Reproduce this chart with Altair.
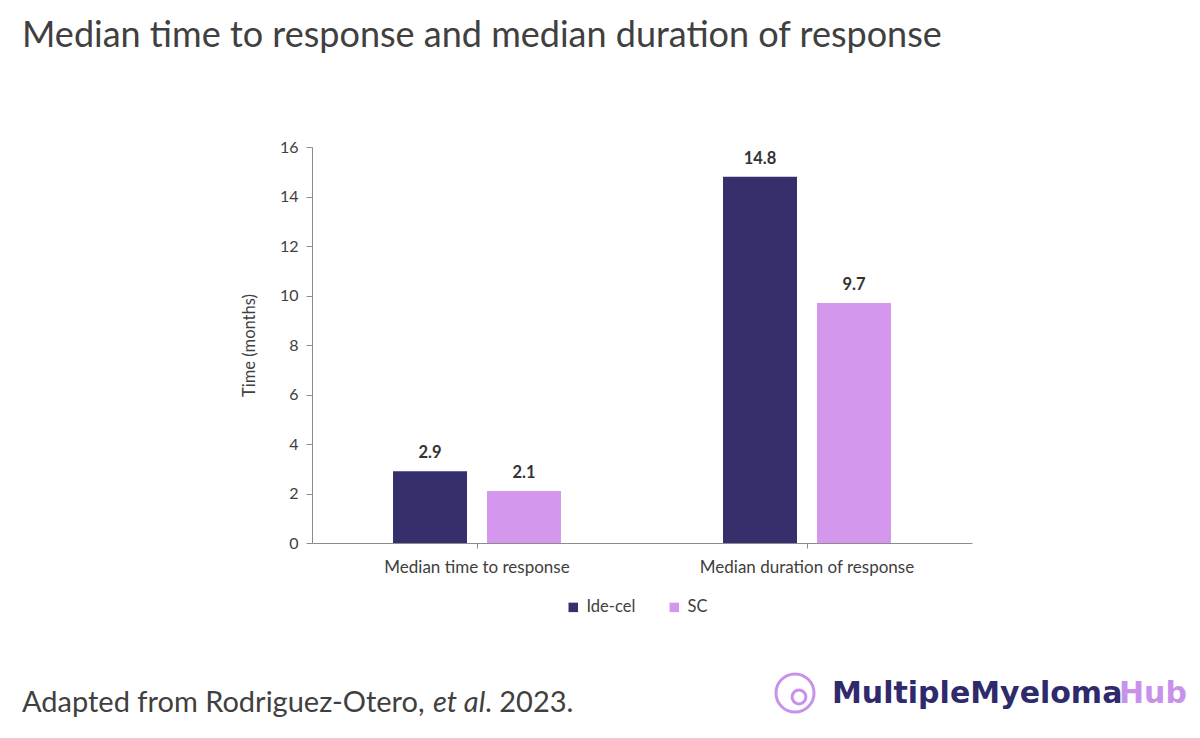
import altair as alt
import pandas as pd

# ---- data ----
categories = ["Median time to response", "Median duration of response"]
series = ["Ide-cel", "SC"]
ide_cel = [2.9, 14.8]
sc = [2.1, 9.7]
colors = ["#35306c", "#d597ee"]
y_ticks = [0, 2, 4, 6, 8, 10, 12, 14, 16]

rows = []
for i, c in enumerate(categories):
    rows.append({"category": c, "group": series[0], "value": ide_cel[i]})
    rows.append({"category": c, "group": series[1], "value": sc[i]})
df = pd.DataFrame(rows)
df["label"] = df["value"].map(lambda v: f"{v:.1f}")

FONT = "Lato"
TXT = "#404040"

# plot origin on page: (312,147); plot size 660 x 396
OX, OY = 312, 147

x = alt.X(
    "category:N",
    sort=categories,
    scale=alt.Scale(paddingInner=0.491, paddingOuter=0.2455),
    axis=alt.Axis(
        title=None, labelAngle=0, labelFontSize=17, labelColor=TXT,
        labelPadding=11, tickSize=5, domainColor="#8c8c8c", tickColor="#8c8c8c",
        labelFont=FONT, labelLimit=0,
    ),
)
xo = alt.XOffset(
    "group:N", sort=series,
    scale=alt.Scale(paddingInner=0.2128, paddingOuter=0),
)
y = alt.Y(
    "value:Q",
    scale=alt.Scale(domain=[0, 16], nice=False),
    axis=alt.Axis(
        values=y_ticks, title="Time (months)", grid=False,
        labelFontSize=16, labelColor=TXT, labelPadding=8, tickSize=6,
        domainColor="#8c8c8c", tickColor="#8c8c8c",
        titleFontSize=16.5, titleFontWeight="normal", titleColor=TXT,
        titlePadding=22, labelFont=FONT, titleFont=FONT,
    ),
)
color = alt.Color(
    "group:N", sort=series,
    scale=alt.Scale(domain=series, range=colors),
    legend=alt.Legend(
        title=None, orient="none", legendX=568 - OX - 3, legendY=599 - OY,
        direction="horizontal", symbolType="square", symbolSize=90,
        symbolStrokeWidth=0, labelFontSize=16.5, labelColor=TXT,
        labelFont=FONT, columnPadding=30, labelOffset=5,
    ),
)

bars = alt.Chart(df).mark_bar().encode(x=x, xOffset=xo, y=y, color=color)
labels = alt.Chart(df).mark_text(
    fontWeight="bold", fontSize=16.5, color="#333333", baseline="bottom", dy=-10, font=FONT
).encode(x=x, xOffset=xo, y=y, text="label:N")

one = pd.DataFrame({"k": [0]})


def txt(text, px, py, size, col=TXT, weight="normal", style="normal", font=FONT, align="left"):
    return alt.Chart(one).mark_text(
        text=text, align=align, baseline="alphabetic", fontSize=size, color=col,
        fontWeight=weight, fontStyle=style, font=font,
    ).encode(x=alt.value(px - OX), y=alt.value(py - OY))


title = txt("Median time to response and median duration of response", 22, 47, 36)
foot1 = txt("Adapted from Rodriguez-Otero,", 22, 712, 29)
foot2 = txt("et al", 433, 712, 29, style="italic")
foot3 = txt(". 2023.", 485, 712, 29)
logo1 = txt("MultipleMyeloma", 832, 703, 30, col="#2e2a6b", weight="bold", font="DejaVu Sans")
logo2 = txt("Hub", 1119, 703, 30, col="#c992ea", weight="bold", font="DejaVu Sans")

ring = alt.Chart(one).mark_point(
    shape="circle", filled=False, size=1450, strokeWidth=3, color="#c992ea", opacity=1
).encode(x=alt.value(795 - OX), y=alt.value(693 - OY))
inner = alt.Chart(one).mark_point(
    shape="circle", filled=False, size=190, strokeWidth=3, color="#c992ea", opacity=1
).encode(x=alt.value(799 - OX), y=alt.value(697 - OY))

chart = alt.layer(
    bars, labels, title, foot1, foot2, foot3, logo1, logo2, ring, inner
).properties(
    width=660, height=396,
    autosize=alt.AutoSizeParams(type="none"),
    padding={"left": OX - 8, "top": OY - 8, "right": 220, "bottom": 175},
    background="white",
).configure(font=FONT).configure_view(stroke="transparent", strokeWidth=0)

chart.save("out.html", embed_options={"renderer": "svg", "actions": False})
